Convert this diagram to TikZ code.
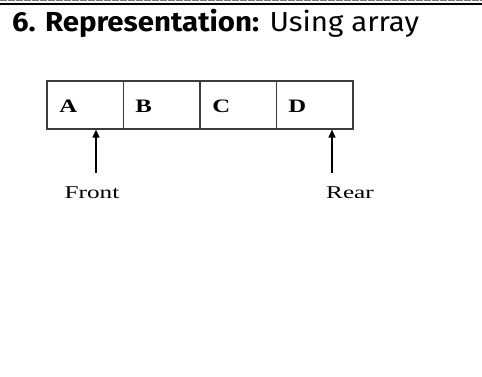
\documentclass[tikz,border=0pt]{standalone}
\usepackage{fontspec}
\setmainfont{Liberation Serif}
\newfontfamily\titlefont{Fira Sans}
\usetikzlibrary{positioning}
\usetikzlibrary{arrows.meta}
\definecolor{cellline}{RGB}{60, 60, 60}
\definecolor{rule}{RGB}{120, 120, 120}

\begin{document}
\begin{tikzpicture}
[every node/.style={inner sep=0pt},
 cell/.style={rectangle, minimum width=76.5pt, minimum height=48pt, line width=1.1pt, draw=cellline},
 letter/.style={anchor=west, font=\fontsize{19}{19}\selectfont\bfseries, xscale=1.3},
 tag/.style={font=\fontsize{18}{18}\selectfont, xscale=1.4},
 ptr/.style={line width=1.4pt, -{Triangle[length=8pt, width=7pt]}}]
\useasboundingbox (0pt, 0pt) rectangle (482pt, -376pt);
\draw [line width=0.6pt, color=rule, dash pattern=on 7pt off 1pt] (0pt, -0.5pt) -- (482pt, -0.5pt);
\draw [line width=2pt, color=black] (0pt, -3.5pt) -- (482pt, -3.5pt);
\node (title) [anchor=base west, xscale=1.07, font=\titlefont\fontsize{27.5}{27.5}\selectfont] at (12pt, -31.5pt) {\textbf{6. Representation:} Using array};
\node (c1) [cell] at (85.25pt, -105pt) {};
\node (c2) [cell] at (161.75pt, -105pt) {};
\node (c3) [cell] at (238.25pt, -105pt) {};
\node (c4) [cell] at (314.75pt, -105pt) {};
\node (a) [letter] at (59pt, -106pt) {A};
\node (b) [letter] at (135pt, -106pt) {B};
\node (c) [letter] at (212pt, -106pt) {C};
\node (d) [letter] at (288pt, -106pt) {D};
\node (front) [tag] at (92pt, -193pt) {Front};
\node (rear) [tag] at (350pt, -193pt) {Rear};
\coordinate (fa) at (96pt, -173pt);
\coordinate (ra) at (332pt, -173pt);
\draw [ptr] (fa) -- (fa |- c1.south);
\draw [ptr] (ra) -- (ra |- c4.south);
\end{tikzpicture}
\end{document}
